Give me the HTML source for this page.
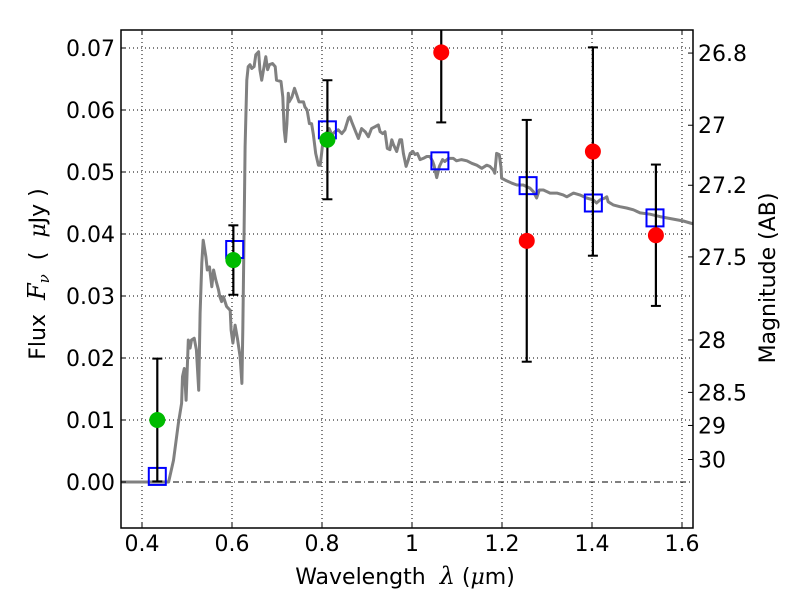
<!DOCTYPE html>
<html><head><meta charset="utf-8"><style>
html,body{margin:0;padding:0;background:#fff;}
svg{display:block;font-family:"DejaVu Sans","Liberation Sans",sans-serif;}
.pre{white-space:pre;}
</style></head><body>
<svg id="chart" width="800" height="600" viewBox="0 0 800 600" xmlns="http://www.w3.org/2000/svg"></svg>
<script>
const specW=[0.35,0.418,0.459,0.470,0.481,0.488,0.490,0.494,0.498,0.503,0.507,0.510,0.516,0.521,0.526,0.529,0.533,0.536,0.542,0.545,0.550,0.555,0.559,0.564,0.570,0.573,0.577,0.581,0.588,0.596,0.598,0.602,0.607,0.612,0.618,0.622,0.624,0.627,0.629,0.633,0.636,0.640,0.644,0.649,0.653,0.659,0.662,0.666,0.670,0.675,0.679,0.683,0.690,0.696,0.699,0.709,0.713,0.716,0.719,0.722,0.725,0.727,0.733,0.739,0.744,0.749,0.759,0.762,0.767,0.772,0.777,0.781,0.786,0.792,0.796,0.799,0.803,0.809,0.816,0.822,0.829,0.836,0.844,0.851,0.859,0.862,0.866,0.873,0.881,0.888,0.896,0.903,0.910,0.918,0.925,0.929,0.935,0.940,0.945,0.951,0.955,0.959,0.966,0.973,0.977,0.981,0.987,0.992,0.996,1.002,1.007,1.012,1.018,1.025,1.033,1.040,1.046,1.049,1.055,1.061,1.068,1.073,1.081,1.092,1.099,1.110,1.122,1.133,1.144,1.155,1.166,1.173,1.181,1.184,1.188,1.194,1.198,1.199,1.207,1.222,1.233,1.247,1.262,1.270,1.277,1.283,1.292,1.307,1.322,1.336,1.344,1.359,1.373,1.388,1.403,1.410,1.418,1.429,1.433,1.436,1.447,1.462,1.477,1.492,1.507,1.529,1.551,1.573,1.603,1.622,1.63];
const specF=[0,0,0,0.0035,0.0095,0.0127,0.0170,0.0183,0.0132,0.0229,0.0216,0.0229,0.0232,0.0213,0.0148,0.0272,0.0353,0.0390,0.0363,0.0342,0.0347,0.0315,0.0342,0.0326,0.0310,0.0299,0.0291,0.0299,0.0283,0.0277,0.0245,0.0224,0.0253,0.0232,0.0202,0.0159,0.0245,0.0406,0.0541,0.0648,0.0670,0.0673,0.0667,0.0670,0.0689,0.0694,0.0665,0.0648,0.0665,0.0686,0.0665,0.0673,0.0675,0.0670,0.0648,0.0646,0.0621,0.0568,0.0549,0.0578,0.0627,0.0613,0.0621,0.0635,0.0624,0.0613,0.0613,0.0605,0.0600,0.0578,0.0578,0.0560,0.0530,0.0511,0.0511,0.0530,0.0557,0.0562,0.0570,0.0560,0.0565,0.0568,0.0562,0.0568,0.0587,0.0589,0.0581,0.0568,0.0554,0.0570,0.0565,0.0557,0.0570,0.0573,0.0576,0.0565,0.0562,0.0565,0.0538,0.0536,0.0552,0.0544,0.0533,0.0552,0.0552,0.0530,0.0509,0.0520,0.0530,0.0533,0.0528,0.0530,0.0520,0.0522,0.0525,0.0525,0.0517,0.0511,0.0491,0.0509,0.0520,0.0517,0.0522,0.0522,0.0518,0.0520,0.0518,0.0514,0.0511,0.0506,0.0511,0.0509,0.0503,0.0498,0.0530,0.0528,0.0506,0.0490,0.0487,0.0482,0.0479,0.0479,0.0474,0.0468,0.0458,0.0471,0.0471,0.0466,0.0466,0.0463,0.0460,0.0466,0.0463,0.0458,0.0455,0.0450,0.0455,0.0458,0.0460,0.0452,0.0447,0.0444,0.0442,0.0439,0.0434,0.0432,0.0428,0.0425,0.0421,0.0417,0.0416];
const modelW=[0.434,0.606,0.812,1.062,1.258,1.403,1.540];
const modelF=[0.0009,0.0375,0.0568,0.0518,0.0478,0.0450,0.0426];
const detW=[0.434,0.603,0.812];
const detF=[0.0100,0.0358,0.0552];
const detE=[0.0099,0.0056,0.0096];
const nondetW=[1.065,1.255,1.402,1.542];
const nondetF=[0.0693,0.0389,0.0533,0.0398];
const nondetE=[0.0113,0.0195,0.0168,0.0114];
const xTicks=[0.4,0.6,0.8,1.0,1.2,1.4,1.6];
const xTickLabels=["0.4","0.6","0.8","1","1.2","1.4","1.6"];
const yTicks=[0,0.01,0.02,0.03,0.04,0.05,0.06,0.07];
const yTickLabels=["0.00","0.01","0.02","0.03","0.04","0.05","0.06","0.07"];
const magTicks=[26.8,27,27.2,27.5,28,28.5,29,30];
const magTickLabels=["26.8","27","27.2","27.5","28","28.5","29","30"];

const L=121,R=693,T=30,B=528;
const X=w=>142+(w-0.4)*450;
const Y=f=>482-f*6200;
const svg=document.getElementById('chart');
const NS="http://www.w3.org/2000/svg";
function mk(tag,attrs,parent){const e=document.createElementNS(NS,tag);for(const k in attrs)e.setAttribute(k,attrs[k]);(parent||svg).appendChild(e);return e;}

const defs=mk('defs',{});
const cp=mk('clipPath',{id:'clip'},defs);
mk('rect',{x:L,y:T,width:R-L,height:B-T},cp);

const grid=mk('g',{});


xTicks.forEach(t=>{mk('line',{x1:X(t),x2:X(t),y1:T,y2:B,stroke:'#000','stroke-width':1,'stroke-dasharray':'1,3'},grid);});
yTicks.forEach(t=>{if(t!==0)mk('line',{x1:L,x2:R,y1:Y(t),y2:Y(t),stroke:'#000','stroke-width':1,'stroke-dasharray':'1,3'},grid);});
const zl=mk('line',{x1:L,x2:R,y1:Y(0),y2:Y(0),stroke:'#000','stroke-width':1,'stroke-dasharray':'6,3,1,3'});



const plot=mk('g',{'clip-path':'url(#clip)'});
let d='';specW.forEach((w,i)=>{d+=(i?'L':'M')+X(w).toFixed(1)+','+Y(specF[i]).toFixed(1);});
const sp=mk('path',{d:d,fill:'none',stroke:'#808080','stroke-width':3,'stroke-linejoin':'round'},plot);



function errbar(w,f,e,name){
  const g=mk('g',{},plot);
  
  
  const x=X(w);
  mk('line',{x1:x,x2:x,y1:Y(f+e),y2:Y(f-e),stroke:'#000','stroke-width':2.2},g);
  mk('line',{x1:x-5,x2:x+5,y1:Y(f+e),y2:Y(f+e),stroke:'#000','stroke-width':2},g);
  mk('line',{x1:x-5,x2:x+5,y1:Y(f-e),y2:Y(f-e),stroke:'#000','stroke-width':2},g);
}
modelW.forEach((w,i)=>{
  const r=mk('rect',{x:X(w)-8.5,y:Y(modelF[i])-8.5,width:17,height:17,fill:'none',stroke:'#0000ff','stroke-width':2},plot);
  
  
});
detW.forEach((w,i)=>{
  errbar(w,detF[i],detE[i],'detection-errorbar');
  const c=mk('circle',{cx:X(w),cy:Y(detF[i]),r:8,fill:'#00bb00'},plot);
  
  
});
nondetW.forEach((w,i)=>{
  errbar(w,nondetF[i],nondetE[i],'red-errorbar');
  const c=mk('circle',{cx:X(w),cy:Y(nondetF[i]),r:8,fill:'#ff0000'},plot);
  
  
});

const frame=mk('rect',{x:L,y:T,width:R-L,height:B-T,fill:'none',stroke:'#000','stroke-width':1.5});



const fs=22;
xTicks.forEach((t,i)=>{
  mk('line',{x1:X(t),x2:X(t),y1:B,y2:B-5,stroke:'#000'});
  mk('line',{x1:X(t),x2:X(t),y1:T,y2:T+5,stroke:'#000'});
  const tx=mk('text',{x:X(t),y:551,'font-size':fs,'text-anchor':'middle'});
  tx.textContent=xTickLabels[i];
  
  
});
yTicks.forEach((t,i)=>{
  mk('line',{x1:L,x2:L+5,y1:Y(t),y2:Y(t),stroke:'#000'});
  const tx=mk('text',{x:L-6,y:Y(t)+8,'font-size':fs,'text-anchor':'end'});
  tx.textContent=yTickLabels[i];
  
  
});
magTicks.forEach((m,i)=>{
  const f=Math.pow(10,(23.9-m)/2.5);
  const y=Y(f);
  mk('line',{x1:R,x2:R-5,y1:y,y2:y,stroke:'#000'});
  const tx=mk('text',{x:R+5,y:y+8,'font-size':fs,'text-anchor':'start'});
  tx.textContent=magTickLabels[i];
  
  
});

const xl=mk('text',{x:405,y:584,'font-size':fs,'text-anchor':'middle',class:'pre'});
xl.innerHTML='Wavelength  <tspan font-style="italic" font-family="DejaVu Serif, serif" font-size="24">λ</tspan> (<tspan font-style="italic" font-family="DejaVu Serif, serif">μ</tspan>m)';


const yl=mk('text',{x:0,y:0,'font-size':fs,'text-anchor':'middle',class:'pre',transform:'translate(45,274) rotate(-90)'});
yl.innerHTML='Flux  <tspan font-style="italic" font-family="DejaVu Serif, serif" font-size="24">F</tspan><tspan font-style="italic" font-size="15" dy="4" font-family="DejaVu Serif, serif">ν</tspan><tspan dy="-4">  (  </tspan><tspan font-style="italic" font-family="DejaVu Serif, serif">μ</tspan>Jy )';


const ml=mk('text',{x:0,y:0,'font-size':fs,'text-anchor':'middle',transform:'translate(775,278) rotate(-90)'});
ml.textContent='Magnitude (AB)';


</script>
</body></html>
